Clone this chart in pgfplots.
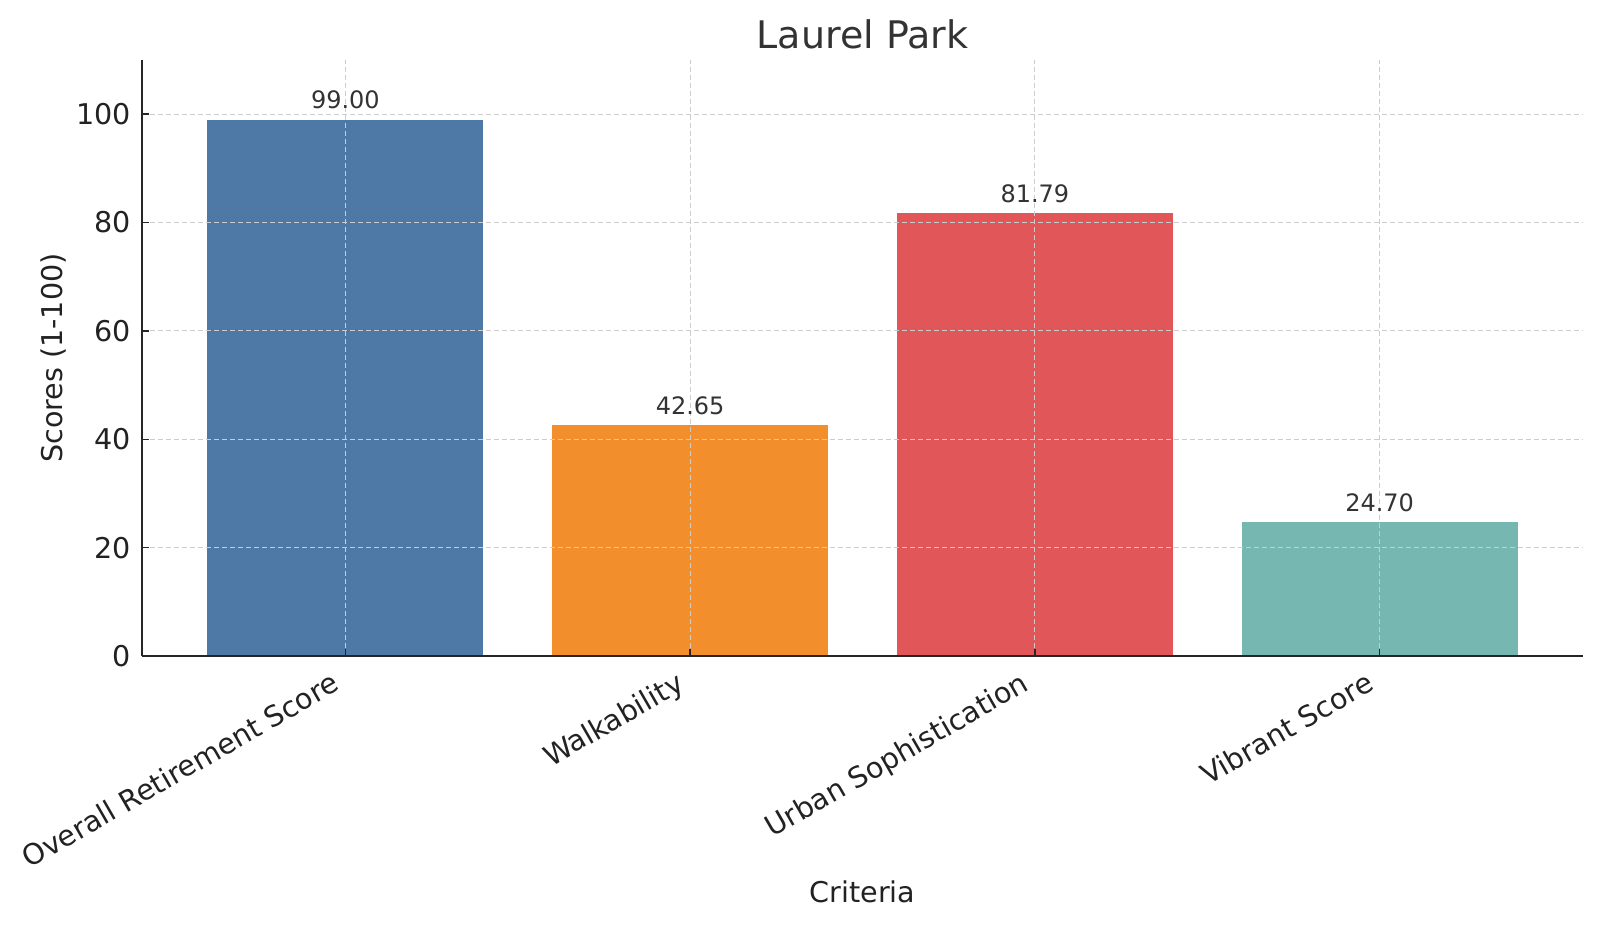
\documentclass[border=0pt]{standalone}
\usepackage{fontspec}
\setmainfont{DejaVu Sans}
\usepackage{pgfplots}
\pgfplotsset{compat=1.18}

\definecolor{barblue}{HTML}{4E79A7}
\definecolor{barorange}{HTML}{F28E2B}
\definecolor{barred}{HTML}{E15759}
\definecolor{barteal}{HTML}{76B7B2}
\definecolor{txtdark}{HTML}{333333}
\definecolor{ticktxt}{HTML}{222222}

\begin{document}
\begin{tikzpicture}
\path[use as bounding box] (-71pt,-134.5pt) rectangle (729pt,328pt);
\begin{axis}[
    at={(0,0)}, anchor=south west,
    scale only axis,
    width=720.5pt, height=298pt,
    xmin=-0.59, xmax=3.59,
    ymin=0, ymax=110,
    axis lines*=left,
    axis line style={line width=1pt, color=black!85},
    ybar,
    bar width=0.8,
    xtick={0,1,2,3},
    xticklabels={Overall Retirement Score, Walkability, Urban Sophistication, Vibrant Score},
    ytick={0,20,40,60,80,100},
    tick align=inside,
    major tick length=3.5pt,
    tick style={line width=0.75pt, color=black!85},
    grid=major,
    major grid style={dash pattern=on 2.5pt off 1.5pt, line width=0.5pt, color=black!20},
    axis on top,
    /pgf/number format/assume math mode=true,
    yticklabel style={font=\fontsize{14.3}{17}\selectfont, color=ticktxt, anchor=east, inner sep=0pt, xshift=-5.5pt},
    xticklabel style={font=\fontsize{14.3}{17}\selectfont, color=ticktxt, inner sep=0pt, xshift=-2pt, yshift=-16.5pt, anchor=base east, rotate=30},
    xlabel={Criteria},
    ylabel={Scores (1-100)},
    xlabel style={font=\fontsize{14.3}{17}\selectfont, color=ticktxt, at={(axis description cs:0.5,-0.4128)}, anchor=base, inner sep=0pt},
    ylabel style={font=\fontsize{14.3}{17}\selectfont, color=ticktxt, at={(axis description cs:-0.0555,0.5)}, anchor=base, inner sep=0pt},
    title={Laurel Park},
    title style={font=\fontsize{19}{23}\selectfont, color=txtdark, at={(axis description cs:0.5,1.0201)}, anchor=base, yshift=-6pt, inner sep=0pt},
    nodes near coords={\pgfmathprintnumber[fixed,zerofill,precision=2,assume math mode=true]{\pgfplotspointmeta}},
    every node near coord/.append style={font=\fontsize{12}{14}\selectfont, color=txtdark, anchor=south, inner sep=0pt, yshift=5pt},
]
\addplot[bar shift=0pt, fill=barblue, draw=none] coordinates {(0,99.00)};
\addplot[bar shift=0pt, fill=barorange, draw=none] coordinates {(1,42.65)};
\addplot[bar shift=0pt, fill=barred, draw=none] coordinates {(2,81.79)};
\addplot[bar shift=0pt, fill=barteal, draw=none] coordinates {(3,24.70)};
\end{axis}
\end{tikzpicture}
\end{document}
